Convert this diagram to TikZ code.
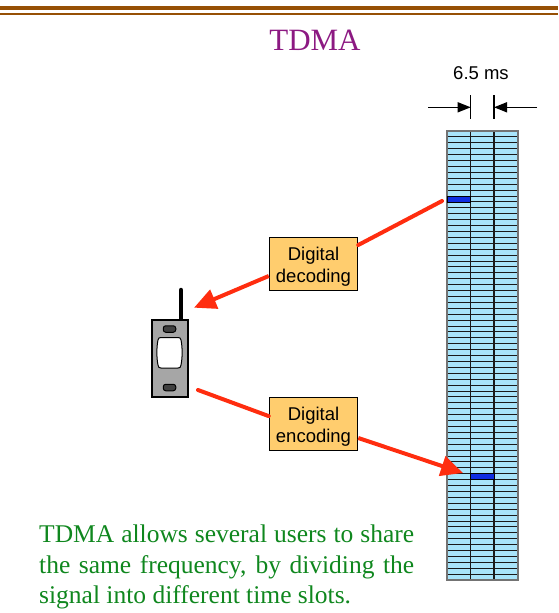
\documentclass[tikz,border=0pt]{standalone}
\usepackage{fontspec}
\setmainfont{Liberation Serif}
\setsansfont{Liberation Sans}
\usetikzlibrary{arrows.meta, positioning, calc}
\definecolor{rulebrown}{RGB}{150, 80, 5}
\definecolor{titlepurple}{RGB}{140, 25, 130}
\definecolor{captiongreen}{RGB}{15, 135, 30}
\definecolor{boxorange}{RGB}{255, 205, 110}
\definecolor{slotcyan}{RGB}{168, 228, 250}
\definecolor{slotblue}{RGB}{15, 45, 225}
\definecolor{arrowred}{RGB}{255, 45, 15}
\definecolor{phonegray}{RGB}{166, 166, 166}
\newcommand{\boxgap}{\rule{0pt}{18.5pt}}
\tikzset{
  codebox/.style={draw, line width=1pt, fill=boxorange, minimum width=88.5pt, minimum height=53.5pt, inner sep=0pt, align=center, font=\sffamily\fontsize{18.5}{22}\selectfont},
  slotnode/.style={draw, fill=slotblue, minimum width=23.5pt, minimum height=5.9pt, inner sep=0pt, line width=0.8pt},
  rarrow/.style={-{Triangle[length=22pt, width=20pt]}, line width=4pt, arrowred},
  rline/.style={line width=4pt, arrowred},
  dimarrow/.style={-{Triangle[length=13pt, width=10pt]}, line width=1.5pt},
  speaker/.style={draw, line width=1pt, fill=black!75, rounded corners=2.5pt, minimum width=12.5pt, minimum height=6.5pt, inner sep=0pt},
}

\begin{document}
\begin{tikzpicture}[x=1pt, y=-1pt]
  \useasboundingbox (0,0) rectangle (558,613);
  \fill[rulebrown] (0,5.7) rectangle (558,10.3);
  \fill[rulebrown] (0,12.8) rectangle (558,14.6);
  \node[titlepurple, font=\fontsize{31}{36}\selectfont] (title) at (315,40) {TDMA};

  % time slots
  \fill[slotcyan] (447,131) rectangle (518,580);
  \foreach \i in {1,...,75} \draw[line width=1pt, black!90] (447,131+\i*5.91) -- (518,131+\i*5.91);
  \foreach \x in {470.7,494} \draw[line width=1.2pt, black!90] (\x,131) -- (\x,580);
  \draw[line width=1.5pt, black!55] (447,131) rectangle (518,580);
  \node[slotnode] (rxslot) at (458.9,199) {};
  \node[slotnode] (txslot) at (482.3,476.5) {};

  % slot width
  \node[font=\sffamily\fontsize{18.5}{22}\selectfont] (width) at (481,73) {6.5 ms};
  \coordinate (tickl) at (470.7,107.3);
  \coordinate (tickr) at (494,107.3);
  \coordinate (froml) at (428,107.3);
  \coordinate (fromr) at (537,107.3);
  \draw[line width=1.5pt] (470.7,95) -- (470.7,119);
  \draw[line width=1.5pt] (494,95) -- (494,119);
  \draw[dimarrow] (froml) -- (tickl);
  \draw[dimarrow] (fromr) -- (tickr);

  % phone
  \draw[line width=4.5pt, line cap=round] (181,290) -- (181,320);
  \node[draw, line width=1.2pt, fill=phonegray, minimum width=36pt, minimum height=77pt, inner sep=0pt] (phone) at (170,358.5) {};
  \node[speaker] (ear) at (169.5,329) {};
  \node[speaker] (mic) at (169.5,387.5) {};
  \draw[line width=1pt, fill=white] (161,337.5) -- (178,337.5) .. controls (180,337.5) and (180.5,338) .. (181,340) .. controls (182.5,347) and (182.5,358) .. (181,365) .. controls (180.5,367.5) and (180,368) .. (178,368) -- (161,368) .. controls (159,368) and (158.5,367.5) .. (158,365) .. controls (156.5,358) and (156.5,347) .. (158,340) .. controls (158.5,338) and (159,337.5) .. (161,337.5) -- cycle;

  % boxes and arrows
  \node[codebox] (decode) at (313.5,264) {\boxgap Digital\\decoding};
  \node[codebox] (encode) at (313.5,424) {\boxgap Digital\\encoding};
  \coordinate (rxfrom) at (442,201);
  \coordinate (rxto) at (194,307.7);
  \coordinate (txfrom) at (198,390);
  \coordinate (txto) at (463,473);
  \draw[rline, line cap=round] (rxfrom) -- (decode.23);
  \draw[rarrow] (decode.195) -- (rxto);
  \draw[rline, line cap=round] (txfrom) -- (encode.170);
  \draw[rarrow] (encode.east) ++(0,14) -- (txto);

  \node[captiongreen, anchor=north west, text width=375pt, align=justify, inner sep=0pt, font=\fontsize{25.5}{30.5}\selectfont] (caption) at (39,525) {\hbox to 375pt{TDMA allows several users to share}\\
    \hbox to 375pt{the same frequency, by dividing the}\\
    signal into different time slots.};
\end{tikzpicture}
\end{document}
